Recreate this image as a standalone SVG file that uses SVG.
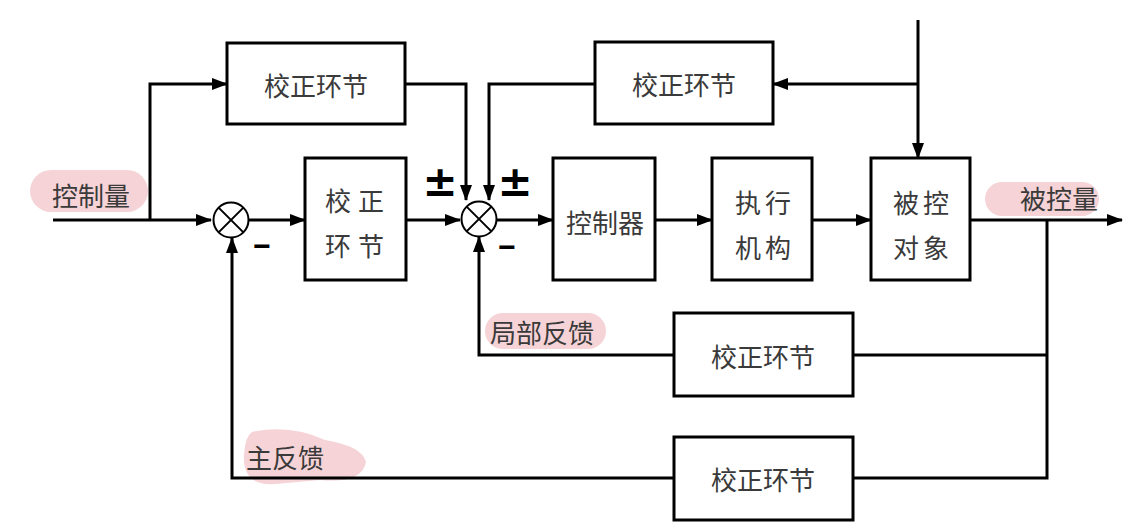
<svg xmlns="http://www.w3.org/2000/svg" width="1136" height="531" viewBox="0 0 1136 531">
<defs>
<marker id="ah" markerWidth="16" markerHeight="12" refX="15" refY="6" orient="auto" markerUnits="userSpaceOnUse">
<path d="M0,0 L16,6 L0,12 Z" fill="#000"/>
</marker>
<style>
.box{fill:#fff;stroke:#000;stroke-width:3}
.ln{fill:none;stroke:#000;stroke-width:3}
.arr{fill:none;stroke:#000;stroke-width:3;marker-end:url(#ah)}
.sum{fill:#fff;stroke:#000;stroke-width:2}
.t{font-family:"Noto Sans CJK SC","Noto Sans",sans-serif;font-size:26px;fill:#3a3a3a;text-anchor:middle;dominant-baseline:central}
.lbl{font-family:"Noto Sans CJK SC","Noto Sans",sans-serif;font-size:26px;fill:#3a3a3a;dominant-baseline:central}
.sg{font-family:"Liberation Sans",Arial,sans-serif;font-weight:bold;font-size:30px;fill:#000;text-anchor:middle;dominant-baseline:central}
.pm{font-family:"DejaVu Sans",sans-serif;font-weight:bold;font-size:42px;fill:#000;text-anchor:middle;dominant-baseline:central}
.hl{fill:#f2c4c8;opacity:0.75}
</style>
</defs>
<rect width="1136" height="531" fill="#fff"/>
<g id="highlights">
<rect class="hl" x="30" y="170" width="118" height="42" rx="21"/>
<rect class="hl" x="985" y="182" width="114" height="34" rx="17"/>
<rect class="hl" x="485" y="313" width="121" height="36" rx="18"/>
<path class="hl" d="M252,432 Q290,424 325,440 Q362,446 366,462 Q362,484 320,480 L275,484 Q245,486 244,460 Q244,438 252,432 Z"/>
</g>
<g id="connectors">
<polyline class="arr" points="53,220 211,220"/>
<polyline class="arr" points="150,220 150,84 227,84"/>
<polyline class="arr" points="249,220 305,220"/>
<polyline class="arr" points="406,220 460,220"/>
<polyline class="arr" points="405,84 466,84 466,200"/>
<polyline class="arr" points="595,84 489,84 489,200"/>
<polyline class="arr" points="497,220 553,220"/>
<polyline class="arr" points="655,220 712,220"/>
<polyline class="arr" points="812,220 871,220"/>
<polyline class="arr" points="918,20 918,158"/>
<polyline class="arr" points="918,84 773,84"/>
<polyline class="arr" points="970,220 1122,220"/>
<polyline class="ln" points="1047,220 1047,478 853,478"/>
<polyline class="ln" points="1047,355 853,355"/>
<polyline class="arr" points="674,355 479,355 479,237"/>
<polyline class="arr" points="674,478 232,478 232,238"/>
</g>
<g id="sum1">
<circle class="sum" cx="231" cy="220" r="17.5"/>
<path class="ln" style="stroke-width:2" d="M218.6,207.6 L243.4,232.4 M243.4,207.6 L218.6,232.4"/>
</g>
<g id="sum2">
<circle class="sum" cx="479" cy="219" r="17.5"/>
<path class="ln" style="stroke-width:2" d="M466.6,206.6 L491.4,231.4 M491.4,206.6 L466.6,231.4"/>
</g>
<g id="corr-top-left">
<rect class="box" x="227" y="43" width="178" height="81"/>
<text class="t" x="316" y="84">校正环节</text>
</g>
<g id="corr-top-right">
<rect class="box" x="595" y="42" width="178" height="82"/>
<text class="t" x="684" y="83">校正环节</text>
</g>
<g id="corr-series">
<rect class="box" x="305" y="158" width="101" height="122"/>
<text class="t" x="358" y="199" letter-spacing="7">校正</text>
<text class="t" x="358" y="244" letter-spacing="7">环节</text>
</g>
<g id="controller">
<rect class="box" x="553" y="158" width="102" height="122"/>
<text class="t" x="605" y="221">控制器</text>
</g>
<g id="actuator">
<rect class="box" x="712" y="158" width="100" height="122"/>
<text class="t" x="765" y="201" letter-spacing="4">执行</text>
<text class="t" x="765" y="246" letter-spacing="4">机构</text>
</g>
<g id="plant">
<rect class="box" x="871" y="158" width="99" height="122"/>
<text class="t" x="923" y="201" letter-spacing="4">被控</text>
<text class="t" x="923" y="246" letter-spacing="4">对象</text>
</g>
<g id="corr-local">
<rect class="box" x="674" y="313" width="179" height="83"/>
<text class="t" x="763" y="355">校正环节</text>
</g>
<g id="corr-main">
<rect class="box" x="674" y="437" width="179" height="83"/>
<text class="t" x="763" y="478">校正环节</text>
</g>
<g id="labels">
<text class="lbl" x="52" y="194">控制量</text>
<text class="lbl" x="1020" y="197">被控量</text>
<text class="lbl" x="490" y="331">局部反馈</text>
<text class="lbl" x="246" y="456">主反馈</text>
<text class="pm" x="440" y="181">±</text>
<text class="pm" x="515" y="181">±</text>
<text class="sg" x="262" y="245">−</text>
<text class="sg" x="507" y="246">−</text>
</g>
</svg>
